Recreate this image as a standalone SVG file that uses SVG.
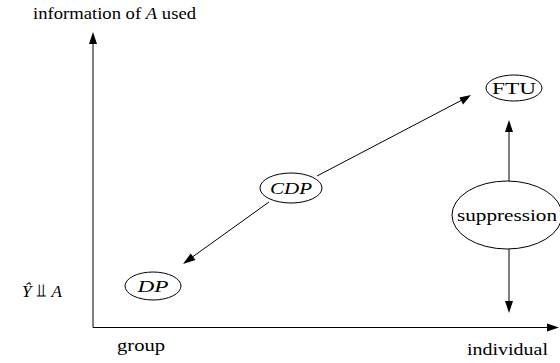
<svg xmlns="http://www.w3.org/2000/svg" width="560" height="363" viewBox="0 0 560 363">
  <rect width="560" height="363" fill="#fff"/>
  <g id="connectors" stroke="#000" stroke-width="1">
    <line x1="93" y1="327.5" x2="93" y2="42"/>
    <polygon points="93,32 89,44 97,44" fill="#000" stroke="none"/>
    <line x1="93" y1="327.5" x2="549" y2="327.5"/>
    <polygon points="559,327.5 547,323.5 547,331.5" fill="#000" stroke="none"/>
    <line x1="269" y1="202" x2="191" y2="258"/>
    <polygon points="183,264 190.7,253.4 195.4,259.9" fill="#000" stroke="none"/>
    <line x1="317" y1="176" x2="462" y2="100"/>
    <polygon points="471,95 459.4,97.4 463.1,104.5" fill="#000" stroke="none"/>
    <line x1="509" y1="181" x2="509" y2="130"/>
    <polygon points="509,120 505,132 513,132" fill="#000" stroke="none"/>
    <line x1="509" y1="249" x2="509" y2="303"/>
    <polygon points="509,313 505,301 513,301" fill="#000" stroke="none"/>
  </g>
  <g id="axis-labels">
    <text x="33" y="19" font-size="17" font-family="'Liberation Serif'" textLength="163" lengthAdjust="spacingAndGlyphs">information of <tspan font-style="italic">A</tspan> used</text>
    <text x="117" y="351" font-size="17" font-family="'Liberation Serif'" textLength="48" lengthAdjust="spacingAndGlyphs">group</text>
    <text x="467" y="355" font-size="17" font-family="'Liberation Serif'" textLength="81" lengthAdjust="spacingAndGlyphs">individual</text>
    <text x="22" y="297" font-size="17" font-family="'Liberation Serif'"><tspan font-style="italic">Ŷ</tspan><tspan dx="5" font-family="'DejaVu Sans'" font-size="18">⫫</tspan><tspan dx="5" font-style="italic">A</tspan></text>
  </g>
  <g id="node-dp">
    <ellipse cx="153" cy="286" rx="28" ry="14" fill="#fff" stroke="#000" stroke-width="1"/>
    <text x="153" y="292" font-size="17" font-family="'Liberation Serif'" font-style="italic" text-anchor="middle" textLength="31" lengthAdjust="spacingAndGlyphs">DP</text>
  </g>
  <g id="node-cdp">
    <ellipse cx="291" cy="188" rx="31" ry="15" fill="#fff" stroke="#000" stroke-width="1"/>
    <text x="291" y="194" font-size="17" font-family="'Liberation Serif'" font-style="italic" text-anchor="middle" textLength="42" lengthAdjust="spacingAndGlyphs">CDP</text>
  </g>
  <g id="node-ftu">
    <ellipse cx="514" cy="88" rx="28" ry="13" fill="#fff" stroke="#000" stroke-width="1"/>
    <text x="514" y="94" font-size="17" font-family="'Liberation Serif'" text-anchor="middle" textLength="44" lengthAdjust="spacingAndGlyphs">FTU</text>
  </g>
  <g id="node-suppression">
    <ellipse cx="507" cy="215" rx="55" ry="34" fill="#fff" stroke="#000" stroke-width="1"/>
    <text x="507" y="221" font-size="17" font-family="'Liberation Serif'" text-anchor="middle" textLength="100" lengthAdjust="spacingAndGlyphs">suppression</text>
  </g>
</svg>
